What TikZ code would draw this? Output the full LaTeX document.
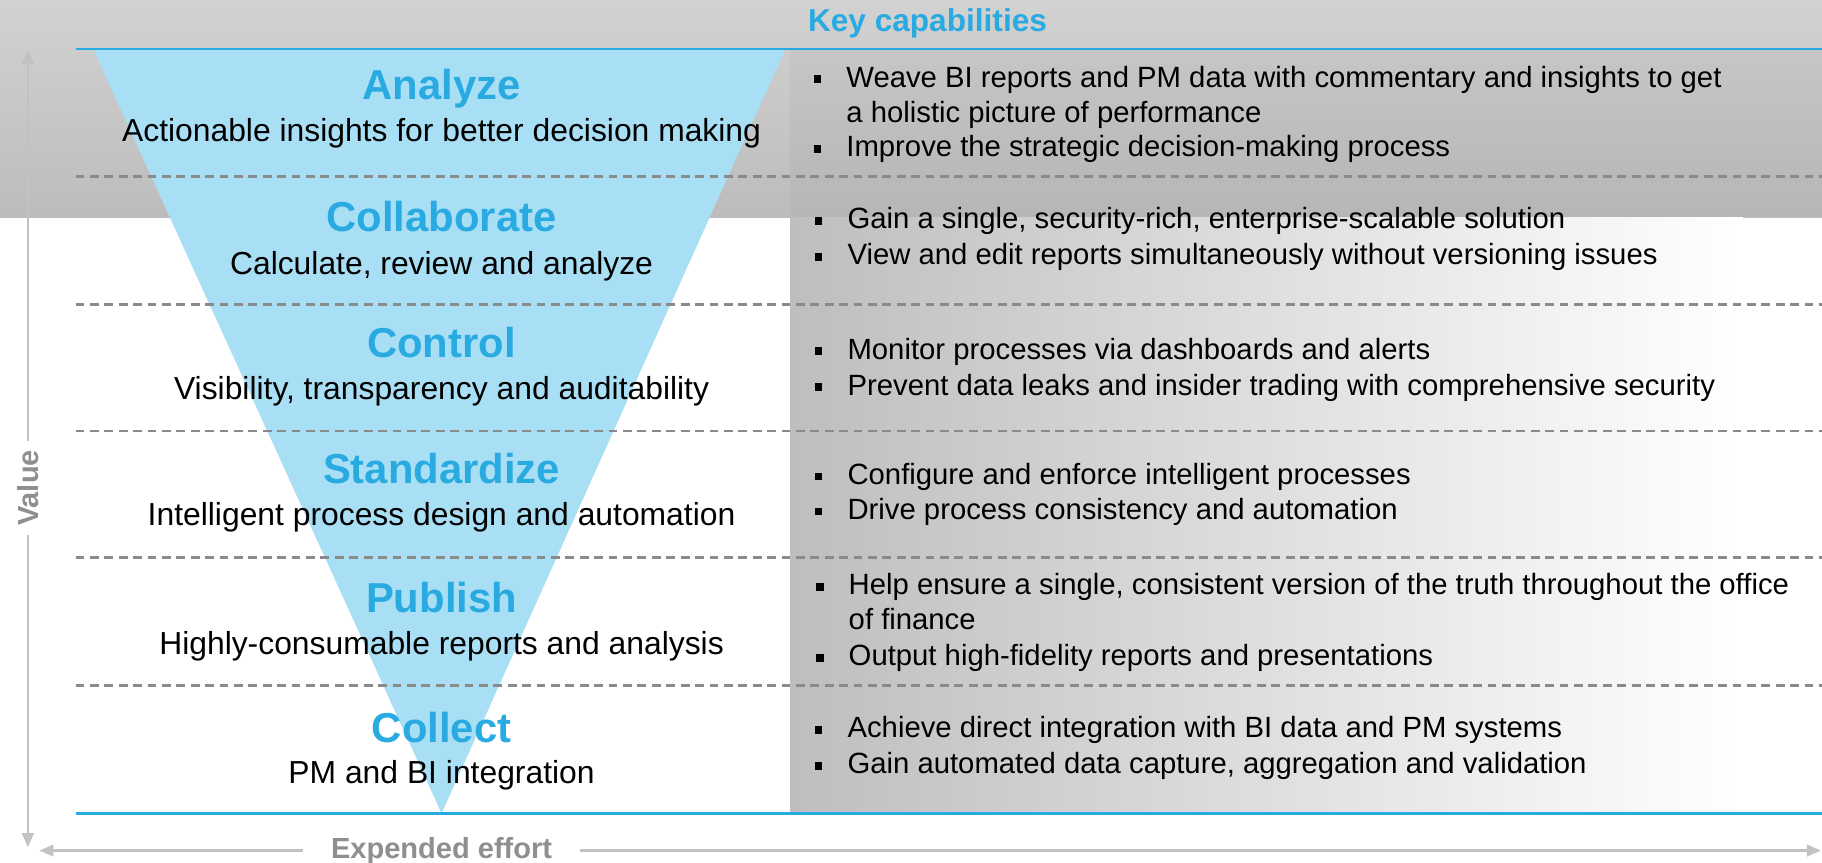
\documentclass[tikz,border=0pt]{standalone}
\usepackage{fontspec}
\setmainfont{Liberation Sans}
\usetikzlibrary{arrows.meta}
\definecolor{capblue}{HTML}{29ABE2}
\definecolor{funnel}{HTML}{A9DFF4}
\definecolor{dashgray}{HTML}{8A8A8A}
\definecolor{axisgray}{HTML}{C2C2C2}
\definecolor{axistext}{HTML}{8F8F8F}
\definecolor{bandtop}{HTML}{D2D2D2}
\definecolor{bandbot}{HTML}{BCBCBC}
\definecolor{panelgray}{HTML}{BEBEBE}
\newcommand{\bsq}{\makebox[0pt][r]{\raisebox{1.8pt}{\rule{3.3pt}{3.3pt}}\hspace{10.8pt}}}
\begin{document}
\begin{tikzpicture}[x=0.5pt,y=-0.5pt,
  ttl/.style={font=\fontsize{18}{20}\selectfont\bfseries, text=capblue, inner sep=0, anchor=base},
  sub/.style={font=\fontsize{13.7}{16}\selectfont, inner sep=0, anchor=base},
  bul/.style={font=\fontsize{12.6}{15}\selectfont, align=left, anchor=base west, inner sep=0},
  dsh/.style={draw=dashgray, line width=1.1pt, dash pattern=on 3.8pt off 2.4pt},
  bline/.style={draw=capblue, line width=1pt},
  axis/.style={draw=axisgray, line width=1pt, -{Triangle[length=6pt,width=5pt]}},
  axlbl/.style={font=\fontsize{12.5}{14}\selectfont\bfseries, text=axistext}]
\useasboundingbox (0,0) rectangle (1568,742);
% backgrounds
\fill[white] (0,0) rectangle (1568,742);
\shade[top color=bandtop, bottom color=bandbot] (0,0) rectangle (1568,187);
\fill[black, opacity=0.03] (680,42) rectangle (1568,187);
\shade[left color=panelgray, right color=white] (680,187) rectangle (1500,700);
% funnel
\fill[funnel] (80,42) -- (676,42) -- (380,700) -- cycle;
% separators
\coordinate (l0) at (65,42);   \coordinate (r0) at (1568,42);
\coordinate (l1) at (65,152);  \coordinate (r1) at (1568,152);
\coordinate (l2) at (65,262);  \coordinate (r2) at (1568,262);
\coordinate (l3) at (65,371);  \coordinate (r3) at (1568,371);
\coordinate (l4) at (65,480);  \coordinate (r4) at (1568,480);
\coordinate (l5) at (65,590);  \coordinate (r5) at (1568,590);
\coordinate (l6) at (65,700);  \coordinate (r6) at (1568,700);
\draw[dsh] (l1) -- (r1);
\draw[dsh] (l2) -- (r2);
\draw[dsh] (l3) -- (r3);
\draw[dsh] (l4) -- (r4);
\draw[dsh] (l5) -- (r5);
\draw[bline] (l0) -- (r0);
\draw[bline] (l6) -- (r6);
% header
\node[font=\fontsize{13.6}{15}\selectfont\bfseries, text=capblue, inner sep=0, anchor=base west] (kc) at (695,27) {Key capabilities};
% left column
\node[ttl] (t1) at (380,86) {Analyze};
\node[sub] (s1) at (380,122) {Actionable insights for better decision making};
\node[ttl] (t2) at (380,199) {Collaborate};
\node[sub] (s2) at (380,236) {Calculate, review and analyze};
\node[ttl] (t3) at (380,308) {Control};
\node[sub] (s3) at (380,344) {Visibility, transparency and auditability};
\node[ttl] (t4) at (380,416) {Standardize};
\node[sub] (s4) at (380,452) {Intelligent process design and automation};
\node[ttl] (t5) at (380,527) {Publish};
\node[sub] (s5) at (380,563) {Highly-consumable reports and analysis};
\node[ttl] (t6) at (380,639) {Collect};
\node[sub] (s6) at (380,674) {PM and BI integration};
% bullets (base = last line's baseline)
\node[bul] (b11) at (728,105) {\bsq Weave BI reports and PM data with commentary and insights to get\\a holistic picture of performance};
\node[bul] (b12) at (728,135) {\bsq Improve the strategic decision-making process};
\node[bul] (b21) at (729,197) {\bsq Gain a single, security-rich, enterprise-scalable solution};
\node[bul] (b22) at (729,228) {\bsq View and edit reports simultaneously without versioning issues};
\node[bul] (b31) at (729,309) {\bsq Monitor processes via dashboards and alerts};
\node[bul] (b32) at (729,340) {\bsq Prevent data leaks and insider trading with comprehensive security};
\node[bul] (b41) at (729,417) {\bsq Configure and enforce intelligent processes};
\node[bul] (b42) at (729,447) {\bsq Drive process consistency and automation};
\node[bul] (b51) at (730,542) {\bsq Help ensure a single, consistent version of the truth throughout the office\\of finance};
\node[bul] (b52) at (730,573) {\bsq Output high-fidelity reports and presentations};
\node[bul] (b61) at (729,635) {\bsq Achieve direct integration with BI data and PM systems};
\node[bul] (b62) at (729,666) {\bsq Gain automated data capture, aggregation and validation};
% axes
\node[axlbl, rotate=90, inner xsep=3.5pt, inner ysep=0pt] (val) at (24,420) {Value};
\coordinate (vtop) at (24,43);
\coordinate (vbot) at (24,729);
\draw[axis] (val.east) -- (vtop);
\draw[axis] (val.west) -- (vbot);
\node[axlbl, inner xsep=12pt, inner ysep=0pt] (eff) at (380,732) {Expended effort};
\coordinate (hleft) at (34,732);
\coordinate (hright) at (1567,732);
\draw[axis] (eff.west) -- (hleft);
\draw[axis] (eff.east) -- (hright);
\end{tikzpicture}
\end{document}
